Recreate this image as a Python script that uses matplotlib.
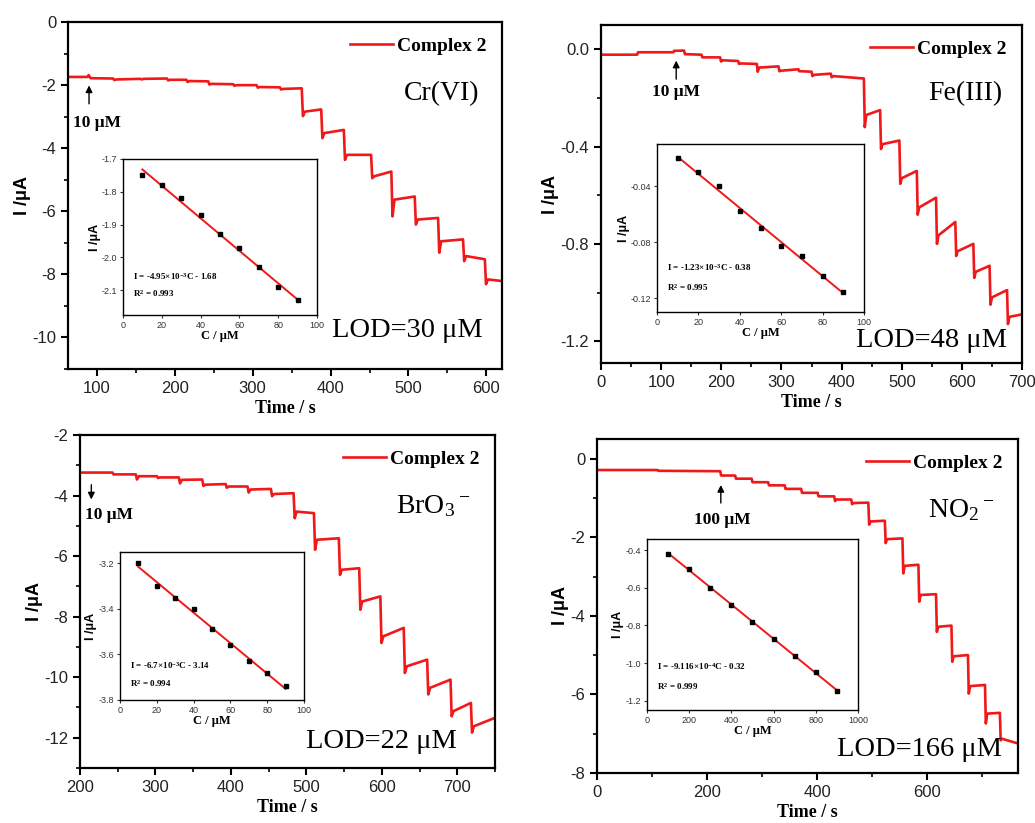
import numpy as np
import matplotlib.pyplot as plt
from matplotlib.ticker import MultipleLocator, FormatStrFormatter

plt.rcParams['axes.unicode_minus'] = False
plt.rcParams['font.family'] = ['Liberation Sans', 'DejaVu Sans']
plt.rcParams['mathtext.default'] = 'regular'

# --- main traces: baseline start, then (step time, transient, level after, level before next step) ---
cr_t0, cr_i0, cr_tend = 63, -1.74, 620
cr_step_t = [88, 121, 156, 190, 215, 243, 275, 305, 335, 363, 388, 417, 452, 478, 508, 538, 570, 598]
cr_dip = [-1.68, -1.84, -1.82, -1.85, -1.90, -1.98, -2.02, -2.08, -2.14, -2.98, -3.68, -4.37, -4.95, -6.16, -6.42, -7.31, -7.58, -8.31]
cr_lvl_a = [-1.78, -1.82, -1.80, -1.83, -1.87, -1.96, -2.00, -2.06, -2.12, -2.84, -3.52, -4.21, -4.89, -5.63, -6.26, -6.95, -7.42, -8.16]
cr_lvl_b = [-1.79, -1.80, -1.79, -1.83, -1.88, -1.97, -2.00, -2.07, -2.10, -2.77, -3.42, -4.21, -4.74, -5.53, -6.21, -6.89, -7.52, -8.21]

fe_t0, fe_i0, fe_tend = 0, -0.022, 700
fe_step_t = [60, 120, 138, 167, 198, 228, 259, 295, 328, 350, 382, 437, 464, 496, 525, 557, 589, 619, 646, 675]
fe_dip = [-0.012, -0.006, -0.020, -0.033, -0.050, -0.060, -0.092, -0.090, -0.090, -0.110, -0.115,
          -0.32, -0.41, -0.553, -0.68, -0.80, -0.85, -0.94, -1.05, -1.13]
fe_lvl_a = [-0.012, -0.006, -0.020, -0.033, -0.045, -0.058, -0.075, -0.088, -0.090, -0.105, -0.110,
            -0.27, -0.39, -0.53, -0.65, -0.765, -0.83, -0.915, -1.02, -1.10]
fe_lvl_b = [-0.012, -0.005, -0.022, -0.033, -0.048, -0.060, -0.070, -0.082, -0.092, -0.100, -0.120,
            -0.25, -0.375, -0.50, -0.61, -0.71, -0.80, -0.89, -0.99, -1.09]

br_t0, br_i0, br_tend = 200, -3.24, 750
br_step_t = [243, 274, 302, 331, 362, 393, 422, 453, 483, 510, 543, 570, 598, 629, 660, 691, 718]
br_dip = [-3.30, -3.47, -3.42, -3.60, -3.68, -3.74, -3.90, -4.02, -4.75, -5.79, -6.62, -7.77, -8.87, -9.86, -10.57, -11.29, -11.83]
br_lvl_a = [-3.30, -3.36, -3.40, -3.48, -3.64, -3.70, -3.80, -3.95, -4.53, -5.46, -6.45, -7.50, -8.65, -9.64, -10.35, -11.12, -11.62]
br_lvl_b = [-3.30, -3.36, -3.40, -3.47, -3.62, -3.70, -3.78, -3.92, -4.58, -5.41, -6.40, -7.33, -8.37, -9.42, -10.08, -10.85, -11.34]

no_t0, no_i0, no_tend = 0, -0.29, 765
no_step_t = [110, 224, 251, 281, 311, 341, 371, 401, 431, 462, 493, 523, 555, 584, 616, 644, 674, 705, 732]
no_dip = [-0.31, -0.43, -0.51, -0.60, -0.68, -0.77, -0.87, -0.96, -1.08, -1.16, -1.68, -2.15, -2.92, -3.64, -4.41, -5.17, -5.98, -6.74, -7.17]
no_lvl_a = [-0.31, -0.43, -0.51, -0.60, -0.68, -0.77, -0.87, -0.96, -1.04, -1.13, -1.60, -2.05, -2.73, -3.47, -4.28, -5.03, -5.79, -6.49, -7.13]
no_lvl_b = [-0.32, -0.43, -0.51, -0.60, -0.68, -0.77, -0.87, -0.96, -1.04, -1.12, -1.58, -2.03, -2.70, -3.45, -4.25, -5.00, -5.76, -6.47, -7.25]

# --- calibration insets ---
cr_c = [10, 20, 30, 40, 50, 60, 70, 80, 90]
cr_i = [-1.75, -1.78, -1.82, -1.87, -1.93, -1.97, -2.03, -2.09, -2.13]
fe_c = [10, 20, 30, 40, 50, 60, 70, 80, 90]
fe_i = [-0.020, -0.030, -0.040, -0.058, -0.070, -0.083, -0.090, -0.104, -0.116]
br_c = [10, 20, 30, 40, 50, 60, 70, 80, 90]
br_i = [-3.20, -3.30, -3.35, -3.40, -3.49, -3.56, -3.63, -3.68, -3.74]
no_c = [100, 200, 300, 400, 500, 600, 700, 800, 900]
no_i = [-0.42, -0.50, -0.60, -0.69, -0.78, -0.87, -0.96, -1.05, -1.15]

RED = '#f01818'
serif = ['Liberation Serif', 'DejaVu Serif']


def trace(t0, i0, step_t, dip, lvl_a, lvl_b, t_end):
    xs, ys = [t0], [i0]
    prev = i0
    for t, d, a, b in zip(step_t, dip, lvl_a, lvl_b):
        xs += [t, t + 1.5, t + 4]
        ys += [prev, d, a]
        prev = b
    xs.append(t_end)
    ys.append(prev)
    return xs, ys


fig = plt.figure(figsize=(10.35, 8.23), dpi=100)

panels = [
    dict(rect=[0.0657, 0.5516, 0.4193, 0.4216], tr=(cr_t0, cr_i0, cr_step_t, cr_dip, cr_lvl_a, cr_lvl_b, cr_tend),
         xlim=(63, 620), ylim=(-11, 0), xmaj=100, xmin=50, ymaj=2, ymin=1, yfmt='%d',
         ion='Cr(VI)', lod='LOD=30 μM', ion_xy=(0.861, 0.795), lod_xy=(0.783, 0.112),
         arrow=((90, -2.68), (90, -1.92)), atext=('10 μM', 70, -3.2, 'left'),
         inset=[0.1188, 0.6173, 0.1874, 0.1896], c=cr_c, i=cr_i, ixlim=(0, 100), iylim=(-2.175, -1.7),
         ixt=20, iyt=0.1, iyfmt='%.1f', eq='I = -4.95×10$^{-3}$C - 1.68', r2='R$^2$ = 0.993',
         eq_xy=(0.05, 0.245, 0.135)),
    dict(rect=[0.5807, 0.5589, 0.4068, 0.4107], tr=(fe_t0, fe_i0, fe_step_t, fe_dip, fe_lvl_a, fe_lvl_b, fe_tend),
         xlim=(0, 700), ylim=(-1.29, 0.1), xmaj=100, xmin=50, ymaj=0.4, ymin=0.2, yfmt='%.1f',
         ion='Fe(III)', lod='LOD=48 μM', ion_xy=(0.865, 0.798), lod_xy=(0.785, 0.068),
         arrow=((125, -0.134), (125, -0.035)), atext=('10 μM', 125, -0.176, 'center'),
         inset=[0.6348, 0.6209, 0.2, 0.2041], c=fe_c, i=fe_i, ixlim=(0, 100), iylim=(-0.13, -0.01),
         ixt=20, iyt=0.04, iyfmt='%.2f', eq='I = -1.23×10$^{-3}$C - 0.38', r2='R$^2$ = 0.995',
         eq_xy=(0.047, 0.264, 0.145)),
    dict(rect=[0.0773, 0.0668, 0.4010, 0.4046], tr=(br_t0, br_i0, br_step_t, br_dip, br_lvl_a, br_lvl_b, br_tend),
         xlim=(200, 750), ylim=(-13, -2), xmaj=100, xmin=50, ymaj=2, ymin=1, yfmt='%d',
         ion='BrO$_3$$^-$', lod='LOD=22 μM', ion_xy=(0.851, 0.785), lod_xy=(0.727, 0.079),
         arrow=((215, -3.55), (215, -4.22)), atext=('10 μM', 207, -4.64, 'left'),
         inset=[0.1159, 0.1495, 0.1778, 0.1798], c=br_c, i=br_i, ixlim=(0, 100), iylim=(-3.8, -3.15),
         ixt=20, iyt=0.2, iyfmt='%.1f', eq='I = -6.7×10$^{-3}$C - 3.14', r2='R$^2$ = 0.994',
         eq_xy=(0.054, 0.236, 0.113)),
    dict(rect=[0.5768, 0.0608, 0.4068, 0.4058], tr=(no_t0, no_i0, no_step_t, no_dip, no_lvl_a, no_lvl_b, no_tend),
         xlim=(0, 765), ylim=(-8, 0.5), xmaj=200, xmin=100, ymaj=2, ymin=1, yfmt='%d',
         ion='NO$_2$$^-$', lod='LOD=166 μM', ion_xy=(0.866, 0.787), lod_xy=(0.767, 0.069),
         arrow=((225, -1.2), (225, -0.6)), atext=('100 μM', 227, -1.56, 'center'),
         inset=[0.6251, 0.1373, 0.2039, 0.2078], c=no_c, i=no_i, ixlim=(0, 1000), iylim=(-1.25, -0.34),
         ixt=200, iyt=0.2, iyfmt='%.1f', eq='I = -9.116×10$^{-4}$C - 0.32', r2='R$^2$ = 0.999',
         eq_xy=(0.046, 0.257, 0.136)),
]

for p in panels:
    ax = fig.add_axes(p['rect'])
    xs, ys = trace(*p['tr'])
    ax.plot(xs, ys, color=RED, lw=1.9, label='Complex 2')
    ax.set_xlim(*p['xlim'])
    ax.set_ylim(*p['ylim'])
    ax.xaxis.set_major_locator(MultipleLocator(p['xmaj']))
    ax.xaxis.set_minor_locator(MultipleLocator(p['xmin']))
    ax.yaxis.set_major_locator(MultipleLocator(p['ymaj']))
    ax.yaxis.set_minor_locator(MultipleLocator(p['ymin']))
    ax.yaxis.set_major_formatter(FormatStrFormatter(p['yfmt']))
    ax.tick_params(which='major', direction='out', length=5, width=1.5, labelsize=12,
                   labelcolor='#222222')
    ax.tick_params(which='minor', direction='out', length=3, width=1.2)
    for s in ax.spines.values():
        s.set_linewidth(1.6)
    ax.set_xlabel('Time / s', fontsize=13, fontweight='bold', family=serif, labelpad=3)
    ax.set_ylabel('I /μA', fontsize=13, fontweight='bold', labelpad=1)
    ax.legend(loc='upper right', frameon=False, handlelength=2.2, handletextpad=0.2,
              borderaxespad=0.4, prop={'family': serif, 'weight': 'bold', 'size': 14})
    ax.text(*p['ion_xy'], p['ion'], transform=ax.transAxes, ha='center', va='center',
            fontsize=20, family=serif)
    ax.text(*p['lod_xy'], p['lod'], transform=ax.transAxes, ha='center', va='center',
            fontsize=20.5, family=serif)
    (tx, ty), (hx, hy) = p['arrow']
    ax.annotate('', xy=(hx, hy), xytext=(tx, ty),
                arrowprops=dict(arrowstyle='-|>', color='black', lw=1.0, mutation_scale=10))
    txt, ax_x, ax_y, ha = p['atext']
    ax.text(ax_x, ax_y, txt, ha=ha, va='center', fontsize=12.5, fontweight='bold', family=serif)

    # calibration inset
    ins = fig.add_axes(p['inset'])
    c = np.array(p['c'], dtype=float)
    cur = np.array(p['i'], dtype=float)
    k, b = np.polyfit(c, cur, 1)
    ins.plot(c, k * c + b, color=RED, lw=1.4, zorder=2)
    ins.plot(c, cur, 's', color='black', ms=2.5, zorder=3)
    ins.set_xlim(*p['ixlim'])
    ins.set_ylim(*p['iylim'])
    ins.xaxis.set_major_locator(MultipleLocator(p['ixt']))
    ins.yaxis.set_major_locator(MultipleLocator(p['iyt']))
    ins.yaxis.set_major_formatter(FormatStrFormatter(p['iyfmt']))
    ins.tick_params(direction='out', length=2.5, width=0.8, labelsize=6.5, pad=1.5, colors='#333333')
    for s in ins.spines.values():
        s.set_linewidth(1.0)
    ins.set_xlabel('C / μM', fontsize=9, fontweight='bold', family=serif, labelpad=0)
    ins.set_ylabel('I /μA', fontsize=9, fontweight='bold', labelpad=1)
    ex, ey1, ey2 = p['eq_xy']
    ins.text(ex, ey1, p['eq'], transform=ins.transAxes, fontsize=6.5, fontweight='bold',
             family=serif, va='center')
    ins.text(ex, ey2, p['r2'], transform=ins.transAxes, fontsize=6.5, fontweight='bold',
             family=serif, va='center')

fig.savefig('out.png', dpi=100)
